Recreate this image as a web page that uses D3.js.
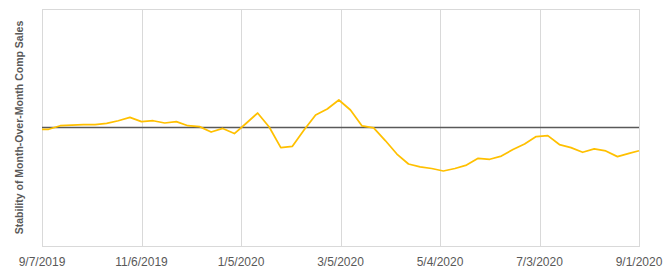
<!DOCTYPE html>
<html>
<head>
<meta charset="utf-8">
<style>
  body { margin: 0; background: #fff; }
  .tick-label { font-family: "Liberation Sans", Arial, sans-serif; font-size: 12px; fill: #595959; }
  .y-title { font-family: "Liberation Sans", Arial, sans-serif; font-size: 10.5px; font-weight: bold; fill: #595959; }
</style>
<script src="https://cdn.jsdelivr.net/npm/d3@7/dist/d3.min.js"></script>
</head>
<body>
<script>
var width = 672
var height = 274

// week dates (first and last are partial periods)
var dates = ["2019-09-07", "2019-09-11", "2019-09-18", "2019-09-25", "2019-10-02", "2019-10-09",
  "2019-10-16", "2019-10-23", "2019-10-30", "2019-11-06", "2019-11-13", "2019-11-20", "2019-11-27",
  "2019-12-04", "2019-12-11", "2019-12-18", "2019-12-25", "2020-01-01", "2020-01-08", "2020-01-15",
  "2020-01-22", "2020-01-29", "2020-02-05", "2020-02-12", "2020-02-19", "2020-02-26", "2020-03-04",
  "2020-03-11", "2020-03-18", "2020-03-25", "2020-04-01", "2020-04-08", "2020-04-15", "2020-04-22",
  "2020-04-29", "2020-05-06", "2020-05-13", "2020-05-20", "2020-05-27", "2020-06-03", "2020-06-10",
  "2020-06-17", "2020-06-24", "2020-07-01", "2020-07-08", "2020-07-15", "2020-07-22", "2020-07-29",
  "2020-08-05", "2020-08-12", "2020-08-19", "2020-08-26", "2020-09-01"]

var stability = [-1.5, -1.5, 1.5, 1.9, 2.4, 2.4, 3.5, 5.7, 8.6, 4.9, 5.7, 3.8, 4.9,
  1.5, 0.7, -3.8, -0.8, -5.1, 3.4, 12.2, 0.4, -17.0, -15.9, -2.1, 10.6, 15.6, 23.2,
  14.8, 1.3, -0.3, -11.0, -22.4, -30.8, -33.3, -34.6, -36.7, -34.6, -31.7, -26.0, -26.8, -24.1,
  -18.6, -13.9, -7.6, -6.9, -14.4, -17.0, -20.9, -18.1, -19.8, -24.6, -21.9, -19.6]

var tickDates = ["2019-09-07", "2019-11-06", "2020-01-05", "2020-03-05", "2020-05-04", "2020-07-03", "2020-09-01"]
var tickLabels = ["9/7/2019", "11/6/2019", "1/5/2020", "3/5/2020", "5/4/2020", "7/3/2020", "9/1/2020"]

var yTitle = "Stability of Month-Over-Month Comp Sales"

var parse = d3.timeParse("%Y-%m-%d")
var margin = { left: 42, right: 33, top: 9, bottom: 28 }

var x = d3.scaleTime()
  .domain([parse(tickDates[0]), parse(tickDates[tickDates.length - 1])])
  .range([margin.left, width - margin.right])

var y = d3.scaleLinear()
  .domain([-100, 100])
  .range([height - margin.bottom, margin.top])

var svg = d3.select("body").append("svg")
  .attr("width", width)
  .attr("height", height)

// vertical gridlines
svg.append("g")
  .selectAll("line")
  .data(tickDates)
  .join("line")
  .attr("x1", d => Math.round(x(parse(d))) + 0.5)
  .attr("x2", d => Math.round(x(parse(d))) + 0.5)
  .attr("y1", margin.top)
  .attr("y2", height - margin.bottom)
  .attr("stroke", "#d9d9d9")
  .attr("stroke-width", 1)

// plot frame
svg.append("rect")
  .attr("x", margin.left + 0.5)
  .attr("y", margin.top + 0.5)
  .attr("width", width - margin.left - margin.right)
  .attr("height", height - margin.top - margin.bottom)
  .attr("fill", "none")
  .attr("stroke", "#d9d9d9")

// zero line
svg.append("line")
  .attr("x1", margin.left)
  .attr("x2", width - margin.right)
  .attr("y1", y(0))
  .attr("y2", y(0))
  .attr("stroke", "#595959")
  .attr("stroke-width", 1.5)

// x tick labels
svg.append("g")
  .selectAll("text")
  .data(tickDates)
  .join("text")
  .attr("class", "tick-label")
  .attr("x", d => x(parse(d)))
  .attr("y", 266)
  .attr("text-anchor", "middle")
  .text((d, i) => tickLabels[i])

// y title
svg.append("text")
  .attr("class", "y-title")
  .attr("transform", "translate(23," + y(0) + ") rotate(-90)")
  .attr("text-anchor", "middle")
  .text(yTitle)

var line = d3.line()
  .x((d, i) => x(parse(dates[i])))
  .y(d => y(d))

svg.append("path")
  .datum(stability)
  .attr("fill", "none")
  .attr("stroke", "#ffc000")
  .attr("stroke-width", 1.75)
  .attr("stroke-linejoin", "round")
  .attr("d", line)
</script>
</body>
</html>
